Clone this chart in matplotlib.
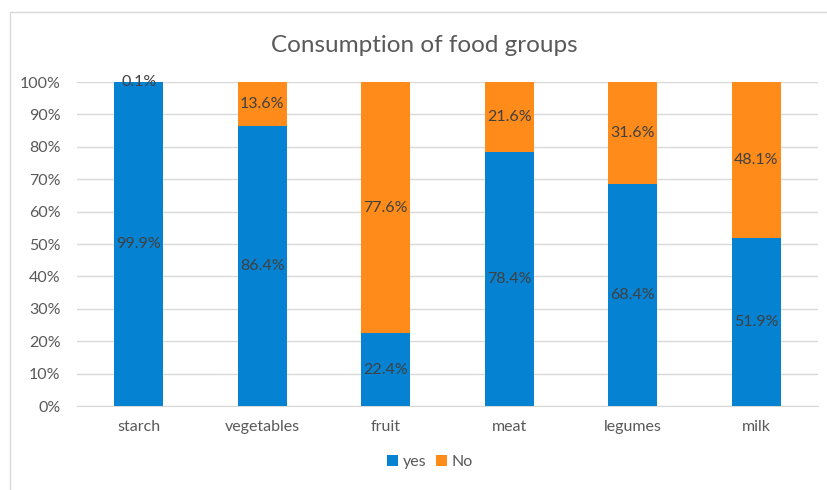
import matplotlib
matplotlib.use("Agg")
import matplotlib.pyplot as plt
import numpy as np
from matplotlib.patches import Rectangle

categories = ["starch", "vegetables", "fruit", "meat", "legumes", "milk"]
yes_pct = [99.9, 86.4, 22.4, 78.4, 68.4, 51.9]
no_pct = [0.1, 13.6, 77.6, 21.6, 31.6, 48.1]
yticks = np.arange(0, 101, 10)

BLUE = "#0583D2"
ORANGE = "#FF8C1A"
GREY = "#595959"

plt.rcParams["font.family"] = ["Lato", "DejaVu Sans"]

fig = plt.figure(figsize=(8.27, 4.9), dpi=100)
# chart border
fig.patches.append(Rectangle((10 / 827, -0.05), 1.0, 1 - 12 / 490 + 0.05,
                             transform=fig.transFigure, fill=False,
                             ec="#D9D9D9", lw=1.0))

ax = fig.add_axes([77 / 827, 1 - 406 / 490, 741 / 827, 324 / 490])
x = np.arange(len(categories))
w = 0.40
b1 = ax.bar(x, yes_pct, w, color=BLUE, label="yes", zorder=3)
b2 = ax.bar(x, no_pct, w, bottom=yes_pct, color=ORANGE, label="No", zorder=3)

for i in range(len(categories)):
    ax.text(x[i], yes_pct[i] / 2, f"{yes_pct[i]:.1f}%", ha="center", va="center",
            fontsize=11.5, color="#404040", zorder=4)
    ax.text(x[i], yes_pct[i] + no_pct[i] / 2, f"{no_pct[i]:.1f}%", ha="center",
            va="center", fontsize=11.5, color="#404040", zorder=4)

ax.set_xlim(-0.5, len(categories) - 0.5)
ax.set_ylim(0, 100)
ax.set_yticks(yticks)
ax.set_yticklabels([f"{v}%" for v in yticks])
ax.set_xticks(x)
ax.set_xticklabels(categories)
ax.tick_params(axis="both", length=0, labelsize=11.5, colors=GREY)
ax.tick_params(axis="y", pad=12)
ax.tick_params(axis="x", pad=10)
ax.grid(axis="y", color="#D9D9D9", lw=1.0, zorder=0)
for s in ["top", "right", "left"]:
    ax.spines[s].set_visible(False)
ax.spines["bottom"].set_color("#D9D9D9")

fig.text(0.513, 1 - 45 / 490, "Consumption of food groups", ha="center", va="center",
         fontsize=17.5, color=GREY)
fig.legend(handles=[b1, b2], loc="center", bbox_to_anchor=(0.52, 1 - 462 / 490),
           ncol=2, frameon=False, fontsize=11.5, handlelength=0.7, handleheight=0.7,
           handletextpad=0.3, columnspacing=0.6, labelcolor=GREY)

fig.savefig("out.png", dpi=100)
